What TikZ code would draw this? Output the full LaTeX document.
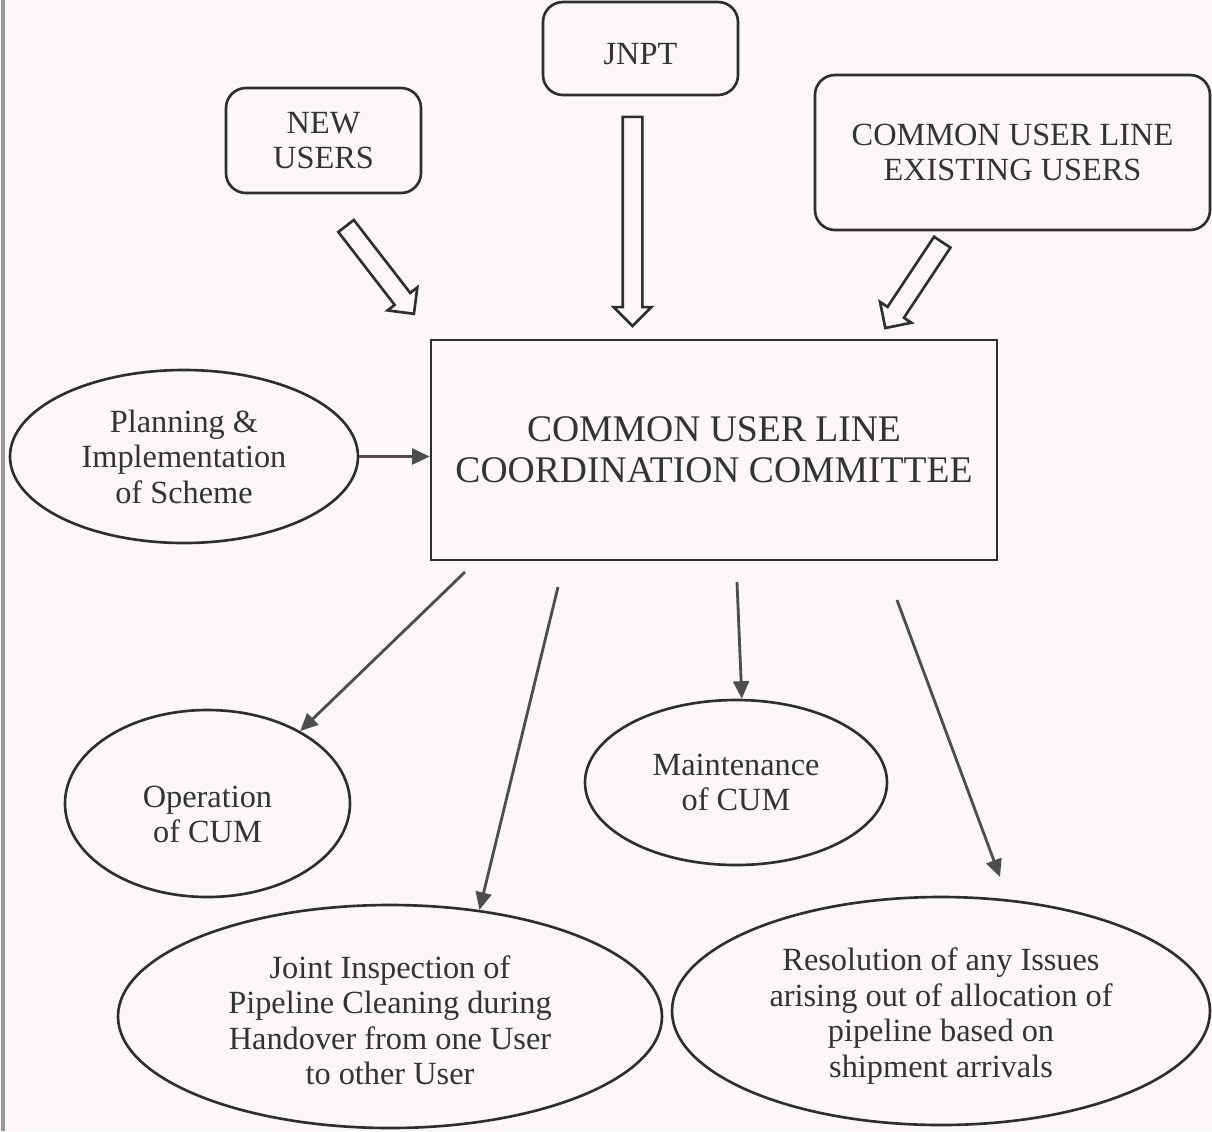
\documentclass[tikz,border=0pt]{standalone}
\usepackage{fontspec}
\setmainfont{Liberation Serif}
\usetikzlibrary{shapes.geometric,shapes.arrows,arrows.meta}
\definecolor{paper}{HTML}{FAF6FA}
\definecolor{ink}{HTML}{2E2E2E}
\definecolor{txt}{HTML}{333333}
\tikzset{
  tstyle/.style={text=txt, align=center, inner sep=0pt, font=\fontsize{9.2}{10.1}\selectfont},
  base/.style={draw=ink, line width=0.75pt, tstyle},
  rbox/.style={base, rectangle, rounded corners=0.2cm},
  mainbox/.style={base, rectangle, font=\fontsize{10.7}{11.6}\selectfont},
  oval/.style={base, ellipse},
  hollow/.style={draw=ink, line width=0.75pt, fill=paper, single arrow, inner sep=0.085cm,
    single arrow head extend=0.09cm, single arrow head indent=0pt, single arrow tip angle=90,
    sloped, allow upside down, midway, minimum width=0.35cm},
  thinarrow/.style={draw=ink!85, line width=0.8pt, -{Triangle[length=5pt,width=4.5pt]}}
}
\begin{document}
\begin{tikzpicture}
\fill[paper] (0,0) rectangle (12.12,-11.31);
\useasboundingbox (0,0) rectangle (12.12,-11.31);
\draw[gray!80, line width=1.4pt] (0.03,0) -- (0.03,-11.31);

% top boxes
\node[rbox, minimum width=1.95cm, minimum height=0.93cm,
  label={[tstyle, yshift=-0.06cm]center:JNPT}] (jnpt) at (6.405,-0.485) {};
\node[rbox, minimum width=1.95cm, minimum height=1.05cm] (new) at (3.235,-1.405) {NEW\\USERS};
\node[rbox, minimum width=3.95cm, minimum height=1.55cm] (exist) at (10.125,-1.525) {COMMON USER LINE\\EXISTING USERS};

% main box
\node[mainbox, minimum width=5.66cm, minimum height=2.2cm] (main) at (7.14,-4.5) {COMMON USER LINE\\COORDINATION COMMITTEE};

% ellipses
\node[oval, minimum width=3.48cm, minimum height=1.73cm] (plan) at (1.84,-4.565) {Planning \&\\Implementation\\of Scheme};
\node[oval, minimum width=2.85cm, minimum height=1.87cm,
  label={[tstyle, yshift=-0.11cm]center:{Operation\\of CUM}}] (oper) at (2.075,-8.035) {};
\node[oval, minimum width=3.02cm, minimum height=1.65cm] (maint) at (7.36,-7.825) {Maintenance\\of CUM};
\node[oval, minimum width=5.44cm, minimum height=2.23cm,
  label={[tstyle, yshift=-0.04cm]center:{Joint Inspection of\\Pipeline Cleaning during\\Handover from one User\\to other User}}] (joint) at (3.9,-10.165) {};
\node[oval, minimum width=5.38cm, minimum height=2.28cm,
  label={[tstyle, yshift=-0.05cm]center:{Resolution of any Issues\\arising out of allocation of\\pipeline based on\\shipment arrivals}}] (resol) at (9.41,-10.11) {};

% hollow block arrows
\coordinate (nuA) at (3.43,-2.22);
\coordinate (nuB) at (4.11,-3.10);
\coordinate (jnA) at (6.325,-1.12);
\coordinate (jnB) at (6.325,-3.21);
\coordinate (exA) at (9.45,-2.38);
\coordinate (exB) at (8.88,-3.24);
\path (nuA) -- (nuB) node[hollow, minimum height=1.11cm] (hnew) {};
\path (jnA) -- (jnB) node[hollow, minimum height=2.09cm] (hjnpt) {};
\path (exA) -- (exB) node[hollow, minimum height=1.03cm] (hexist) {};

% thin arrows
\draw[thinarrow] (plan.east) -- (plan.east -| main.west);
\coordinate (opA) at (4.65,-5.72);
\coordinate (jnS) at (5.58,-5.87);
\coordinate (maS) at (7.37,-5.82);
\coordinate (reA) at (8.97,-6.0);
\coordinate (reB) at (10.0,-8.77);
\draw[thinarrow] (opA) -- (oper.38);
\draw[thinarrow] (jnS) -- (joint.50);
\draw[thinarrow] (maS) -- (maint.86);
\draw[thinarrow] (reA) -- (reB);
\end{tikzpicture}
\end{document}
